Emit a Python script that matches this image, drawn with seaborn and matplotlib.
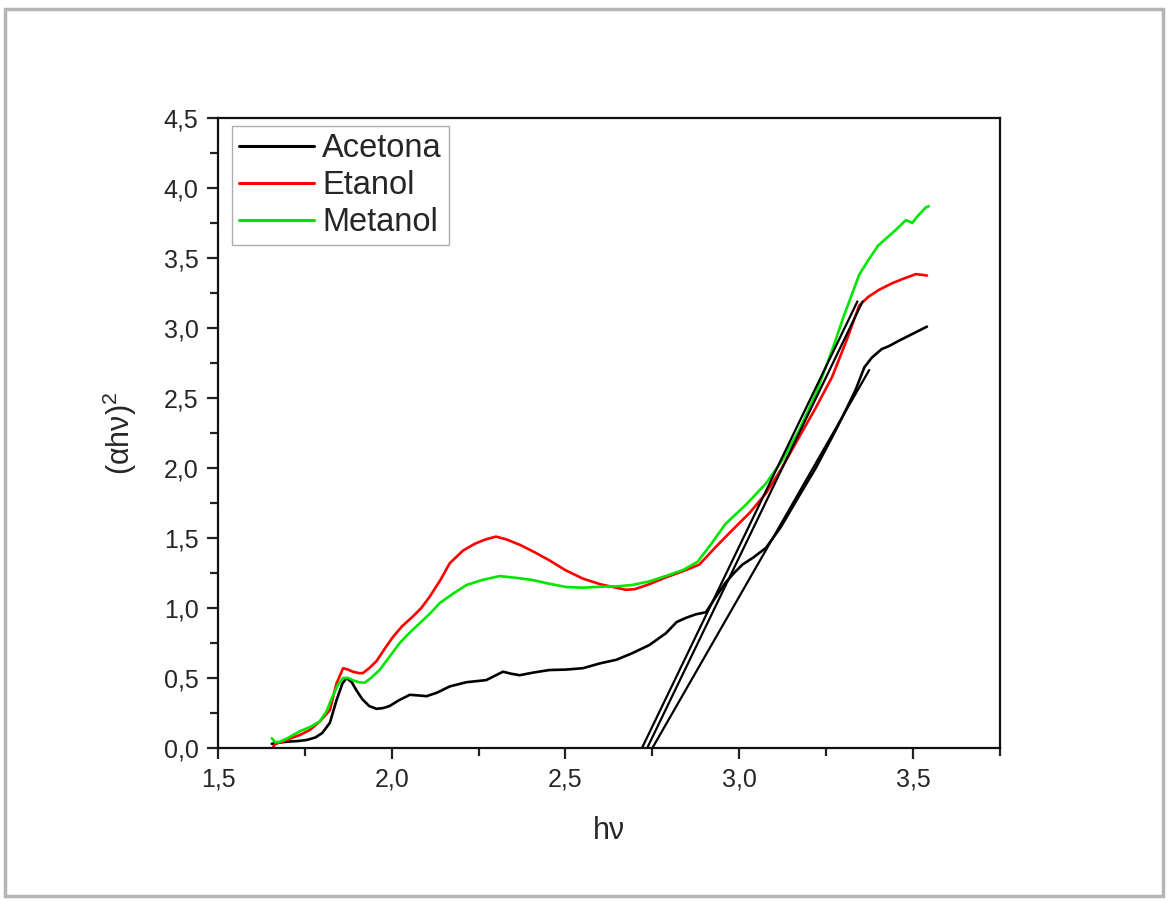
import matplotlib
matplotlib.use("Agg")
import matplotlib.pyplot as plt
import matplotlib.patches as mpatches
from matplotlib.ticker import MultipleLocator, FuncFormatter
import pandas as pd
import seaborn as sns

# Acetona
acetona_x = [1.655, 1.68, 1.70, 1.73, 1.755, 1.78, 1.80, 1.822, 1.841, 1.858, 1.87, 1.885,
             1.898, 1.915, 1.935, 1.956, 1.975, 1.994, 2.02, 2.052, 2.08, 2.10, 2.13, 2.167,
             2.215, 2.272, 2.30, 2.32, 2.345, 2.368, 2.41, 2.454, 2.50, 2.55, 2.60, 2.646,
             2.69, 2.741, 2.789, 2.82, 2.847, 2.875, 2.904, 2.93, 2.96, 2.985, 3.009, 3.04,
             3.077, 3.12, 3.172, 3.22, 3.267, 3.30, 3.335, 3.36, 3.382, 3.41, 3.43, 3.46,
             3.50, 3.54]
acetona_y = [0.03, 0.04, 0.045, 0.05, 0.057, 0.075, 0.107, 0.18, 0.34, 0.46, 0.50, 0.47,
             0.414, 0.35, 0.30, 0.28, 0.285, 0.30, 0.34, 0.38, 0.375, 0.37, 0.395, 0.44,
             0.47, 0.485, 0.52, 0.545, 0.53, 0.52, 0.54, 0.557, 0.56, 0.57, 0.605, 0.63,
             0.675, 0.735, 0.82, 0.90, 0.93, 0.955, 0.97, 1.07, 1.18, 1.25, 1.31, 1.36,
             1.43, 1.58, 1.80, 2.00, 2.22, 2.38, 2.56, 2.72, 2.79, 2.85, 2.87, 2.91,
             2.96, 3.01]

# Etanol
etanol_x = [1.657, 1.665, 1.687, 1.71, 1.736, 1.765, 1.793, 1.822, 1.841, 1.86, 1.875, 1.888,
            1.905, 1.917, 1.935, 1.956, 1.98, 2.004, 2.03, 2.061, 2.085, 2.109, 2.14, 2.167,
            2.205, 2.24, 2.27, 2.30, 2.33, 2.37, 2.41, 2.454, 2.50, 2.55, 2.60, 2.646,
            2.674, 2.70, 2.741, 2.79, 2.835, 2.885, 2.93, 2.98, 3.03, 3.077, 3.12, 3.172,
            3.22, 3.267, 3.31, 3.345, 3.37, 3.40, 3.44, 3.47, 3.508, 3.525, 3.54]
etanol_y = [0.0, 0.03, 0.045, 0.07, 0.093, 0.13, 0.19, 0.27, 0.46, 0.57, 0.56, 0.545,
            0.535, 0.535, 0.57, 0.62, 0.71, 0.795, 0.87, 0.94, 1.0, 1.08, 1.2, 1.32,
            1.41, 1.46, 1.49, 1.51, 1.49, 1.45, 1.40, 1.34, 1.27, 1.21, 1.17, 1.145,
            1.13, 1.135, 1.17, 1.22, 1.26, 1.31, 1.43, 1.557, 1.68, 1.82, 1.99, 2.22,
            2.43, 2.65, 2.92, 3.16, 3.22, 3.27, 3.32, 3.35, 3.385, 3.38, 3.375]

# Metanol
metanol_x = [1.655, 1.665, 1.678, 1.70, 1.736, 1.765, 1.793, 1.812, 1.83, 1.845, 1.86, 1.875,
             1.888, 1.905, 1.922, 1.94, 1.965, 1.99, 2.023, 2.05, 2.08, 2.11, 2.138, 2.175,
             2.215, 2.26, 2.31, 2.36, 2.405, 2.45, 2.502, 2.55, 2.598, 2.65, 2.69, 2.741,
             2.79, 2.837, 2.88, 2.92, 2.96, 3.02, 3.077, 3.125, 3.172, 3.22, 3.267, 3.30,
             3.345, 3.37, 3.40, 3.45, 3.479, 3.49, 3.498, 3.51, 3.536, 3.545]
metanol_y = [0.07, 0.04, 0.045, 0.07, 0.12, 0.15, 0.19, 0.26, 0.37, 0.45, 0.50, 0.50,
             0.485, 0.47, 0.466, 0.50, 0.557, 0.64, 0.75, 0.82, 0.89, 0.96, 1.035, 1.10,
             1.164, 1.20, 1.228, 1.215, 1.20, 1.175, 1.15, 1.145, 1.152, 1.155, 1.164, 1.19,
             1.23, 1.27, 1.33, 1.46, 1.60, 1.74, 1.89, 2.06, 2.27, 2.53, 2.84, 3.08,
             3.38, 3.48, 3.59, 3.70, 3.77, 3.76, 3.75, 3.79, 3.86, 3.87]

# rectas tangentes (extrapolacao do gap)
tangent_1_x = [2.72, 3.34]
tangent_1_y = [0.0, 3.19]
tangent_2_x = [2.735, 3.355]
tangent_2_y = [0.0, 3.19]
tangent_3_x = [2.75, 3.374]
tangent_3_y = [0.0, 2.70]

series_names = ["Acetona", "Etanol", "Metanol"]
series_colors = ["#000000", "#ff0000", "#00e600"]

df = pd.concat([
    pd.DataFrame({"hv": acetona_x, "val": acetona_y, "amostra": "Acetona"}),
    pd.DataFrame({"hv": etanol_x, "val": etanol_y, "amostra": "Etanol"}),
    pd.DataFrame({"hv": metanol_x, "val": metanol_y, "amostra": "Metanol"}),
])

sns.set_style("ticks")
plt.rcParams["font.family"] = ["Liberation Sans", "DejaVu Sans"]
plt.rcParams["mathtext.fontset"] = "custom"
plt.rcParams["mathtext.rm"] = "Liberation Sans"
plt.rcParams["mathtext.it"] = "Liberation Sans"

fig = plt.figure(figsize=(11.68, 9.01), dpi=100)
ax = fig.add_axes([0.1866, 0.1698, 0.6695, 0.6992])

sns.lineplot(data=df, x="hv", y="val", hue="amostra", hue_order=series_names,
             palette=dict(zip(series_names, series_colors)), sort=False,
             linewidth=1.9, ax=ax)

for tx, ty in [(tangent_1_x, tangent_1_y), (tangent_2_x, tangent_2_y), (tangent_3_x, tangent_3_y)]:
    ax.plot(tx, ty, color="black", linewidth=1.6)

ax.set_xlim(1.5, 3.75)
ax.set_ylim(0, 4.5)
ax.xaxis.set_major_locator(MultipleLocator(0.5))
ax.xaxis.set_minor_locator(MultipleLocator(0.25))
ax.yaxis.set_major_locator(MultipleLocator(0.5))
ax.yaxis.set_minor_locator(MultipleLocator(0.25))
comma = FuncFormatter(lambda v, p: f"{v:.1f}".replace(".", ","))
ax.xaxis.set_major_formatter(comma)
ax.yaxis.set_major_formatter(comma)
ax.tick_params(which="major", direction="out", length=8, width=1.6, labelsize=18,
               top=False, right=False, color="#222222", pad=6)
ax.tick_params(which="minor", direction="out", length=6, width=1.6,
               top=False, right=False, color="#222222")
for s in ax.spines.values():
    s.set_linewidth(1.6)
    s.set_color("#111111")

ax.set_xlabel("hν", fontsize=22, labelpad=18)
ax.set_ylabel(r"(αhν)$^{2}$", fontsize=22, labelpad=18)

leg = ax.legend(loc="upper left", bbox_to_anchor=(0.018, 0.987), borderaxespad=0,
                fontsize=23.5, frameon=True, fancybox=False,
                handlelength=2.3, handletextpad=0.25, borderpad=0.22, labelspacing=0.18)
leg.get_frame().set_edgecolor("#999999")
leg.get_frame().set_linewidth(1.0)
for line in leg.get_lines():
    line.set_linewidth(2.2)

# moldura cinza em volta da imagem
fig.patches.append(mpatches.Rectangle((0.004, 0.005), 0.992, 0.985, transform=fig.transFigure,
                                      fill=False, edgecolor="#b5b5b5", linewidth=2.5))

fig.savefig("out.png", dpi=100)
